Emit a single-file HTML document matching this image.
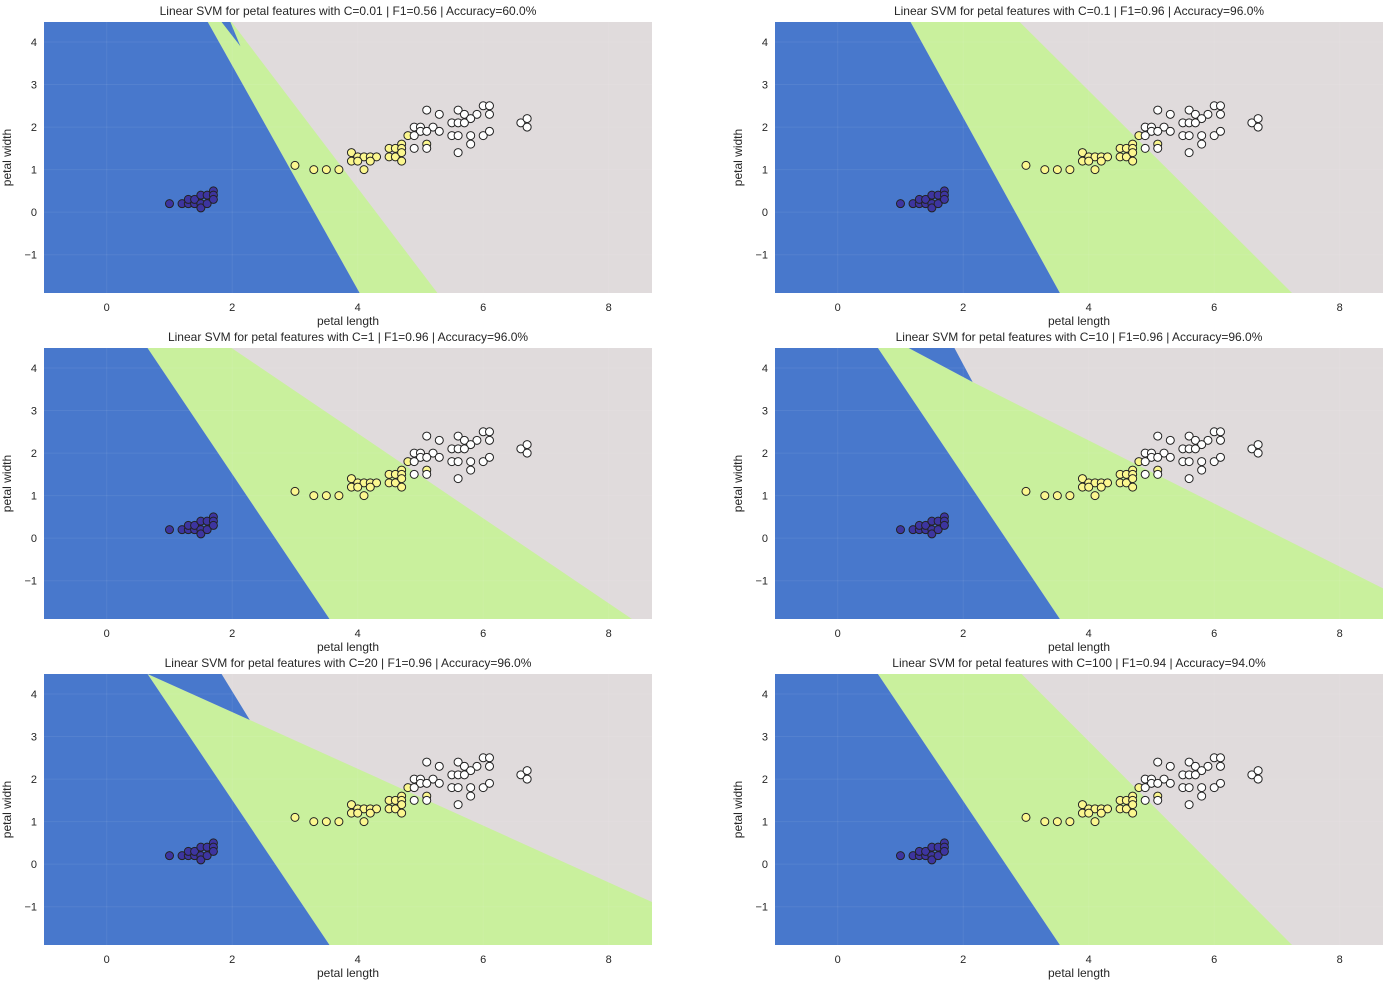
<!DOCTYPE html>
<html><head><meta charset="utf-8">
<style>
body{margin:0;background:#fff;font-family:"Liberation Sans",sans-serif;}
svg{display:block}
text{font-family:"Liberation Sans",sans-serif;fill:#262626}
</style></head>
<body>
<svg id="chart" width="1389" height="986" viewBox="0 0 1389 986" xmlns="http://www.w3.org/2000/svg"></svg>
<script>
// ---- data ----
const setosaX = [1.0,1.2,1.3,1.3,1.4,1.4,1.5,1.5,1.5,1.6,1.6,1.7,1.7,1.7];
const setosaY = [0.2,0.2,0.2,0.3,0.2,0.3,0.2,0.4,0.1,0.2,0.4,0.5,0.4,0.3];
const versiX = [3.0,3.3,3.5,3.7,3.9,3.9,4.0,4.1,4.2,4.3,4.0,4.2,4.1,4.5,4.6,4.7,4.7,4.5,4.6,4.7,4.7,4.8,5.1];
const versiY = [1.1,1.0,1.0,1.0,1.4,1.2,1.3,1.3,1.3,1.3,1.2,1.2,1.0,1.5,1.5,1.6,1.5,1.3,1.3,1.4,1.2,1.8,1.6];
const virgX = [5.1,5.3,5.6,5.7,5.9,6.0,6.1,6.1,5.8,5.5,5.6,5.7,5.2,4.9,5.0,5.3,5.0,5.1,4.9,5.5,5.6,5.8,6.0,6.1,5.8,5.6,6.6,6.7,6.7,4.9,5.1];
const virgY = [2.4,2.3,2.4,2.3,2.3,2.5,2.5,2.3,2.2,2.1,2.1,2.1,2.0,2.0,2.0,1.9,1.9,1.9,1.8,1.8,1.8,1.8,1.8,1.9,1.6,1.4,2.1,2.2,2.0,1.5,1.5];
const titles = [
 "Linear SVM for petal features with C=0.01 | F1=0.56 | Accuracy=60.0%",
 "Linear SVM for petal features with C=0.1 | F1=0.96 | Accuracy=96.0%",
 "Linear SVM for petal features with C=1 | F1=0.96 | Accuracy=96.0%",
 "Linear SVM for petal features with C=10 | F1=0.96 | Accuracy=96.0%",
 "Linear SVM for petal features with C=20 | F1=0.96 | Accuracy=96.0%",
 "Linear SVM for petal features with C=100 | F1=0.94 | Accuracy=94.0%"];
const xTicks = [0,2,4,6,8];
const yTicks = [-1,0,1,2,3,4];
// decision regions (data coords), per panel
const greenRegions = [
 [[1.61,4.47],[1.99,4.47],[5.27,-1.9],[4.03,-1.9]],
 [[1.16,4.47],[2.90,4.47],[7.24,-1.9],[3.54,-1.9]],
 [[0.65,4.47],[1.99,4.47],[8.37,-1.9],[3.55,-1.9]],
 [[0.64,4.47],[1.13,4.47],[2.15,3.67],[8.69,-1.18],[8.69,-1.9],[3.54,-1.9]],
 [[0.65,4.47],[2.28,3.39],[8.69,-0.89],[8.69,-1.9],[3.55,-1.9]],
 [[0.64,4.47],[2.93,4.47],[7.24,-1.9],[3.54,-1.9]]];
const blueRegions = [
 [[[-1,4.47],[1.61,4.47],[4.03,-1.9],[-1,-1.9]],[[1.83,4.47],[1.97,4.47],[2.13,3.9]]],
 [[[-1,4.47],[1.16,4.47],[3.54,-1.9],[-1,-1.9]]],
 [[[-1,4.47],[0.65,4.47],[3.55,-1.9],[-1,-1.9]]],
 [[[-1,4.47],[0.64,4.47],[3.54,-1.9],[-1,-1.9]],[[1.13,4.47],[1.86,4.47],[2.15,3.67]]],
 [[[-1,4.47],[0.65,4.47],[3.55,-1.9],[-1,-1.9]],[[0.65,4.47],[1.83,4.47],[2.28,3.39]]],
 [[[-1,4.47],[0.64,4.47],[3.54,-1.9],[-1,-1.9]]]];

// ---- layout ----
const XMIN=-1, XMAX=8.69, YMIN=-1.9, YMAX=4.47;
const colsX=[44,775], rowsY=[22,348,674], PW=608, PH=271;
const NS="http://www.w3.org/2000/svg";
const svg=document.getElementById('chart');
function mk(tag,attrs,parent){const e=document.createElementNS(NS,tag);for(const k in attrs)e.setAttribute(k,attrs[k]);(parent||svg).appendChild(e);return e;}

for(let p=0;p<6;p++){
  const ox=colsX[p%2], oy=rowsY[Math.floor(p/2)];
  const sx=v=>ox+(v-XMIN)/(XMAX-XMIN)*PW;
  const sy=v=>oy+(YMAX-v)/(YMAX-YMIN)*PH;
  const g=mk('g',{});
  
  
  const bg=mk('rect',{x:ox,y:oy,width:PW,height:PH,fill:'#e0dbdc'},g);
  
  
  const poly=(pts,fill,name)=>{const e=mk('polygon',{points:pts.map(q=>sx(q[0])+','+sy(q[1])).join(' '),fill:fill},g);
    
    };
  poly(greenRegions[p],'#c9f09d','region-versicolor');
  blueRegions[p].forEach(r=>poly(r,'#4878cc','region-setosa'));
  // grid
  xTicks.forEach(t=>{const l=mk('line',{x1:sx(t),x2:sx(t),y1:oy,y2:oy+PH,stroke:'#fff','stroke-opacity':0.07},g);
    
    
    const tx=mk('text',{x:sx(t),y:oy+PH+18,'font-size':11,'text-anchor':'middle'},g);tx.textContent=t;
    
    });
  yTicks.forEach(t=>{const l=mk('line',{x1:ox,x2:ox+PW,y1:sy(t),y2:sy(t),stroke:'#fff','stroke-opacity':0.07},g);
    
    
    const tx=mk('text',{x:ox-7,y:sy(t)+4,'font-size':11,'text-anchor':'end'},g);tx.textContent=t<0?'\u2212'+(-t):t;
    
    });
  // points
  const pts=(xs,ys,fill,name)=>xs.forEach((x,i)=>{const c=mk('circle',{cx:sx(x),cy:sy(ys[i]),r:4,fill:fill,stroke:'#222','stroke-width':1},g);
    
    });
  pts(setosaX,setosaY,'#3d35a0','point-setosa');
  pts(versiX,versiY,'#fbf78f','point-versicolor');
  pts(virgX,virgY,'#ffffff','point-virginica');
  const t=mk('text',{x:ox+PW/2,y:oy-7,'font-size':12,'text-anchor':'middle'},g);t.textContent=titles[p];
  
  
  const xl=mk('text',{x:ox+PW/2,y:oy+PH+32,'font-size':12,'text-anchor':'middle'},g);xl.textContent='petal length';
  
  
  const yx=ox-33, yy=oy+PH/2;
  const yl=mk('text',{x:yx,y:yy,'font-size':12,'text-anchor':'middle',transform:'rotate(-90 '+yx+' '+yy+')'},g);yl.textContent='petal width';
  
  
}
</script>
</body></html>
